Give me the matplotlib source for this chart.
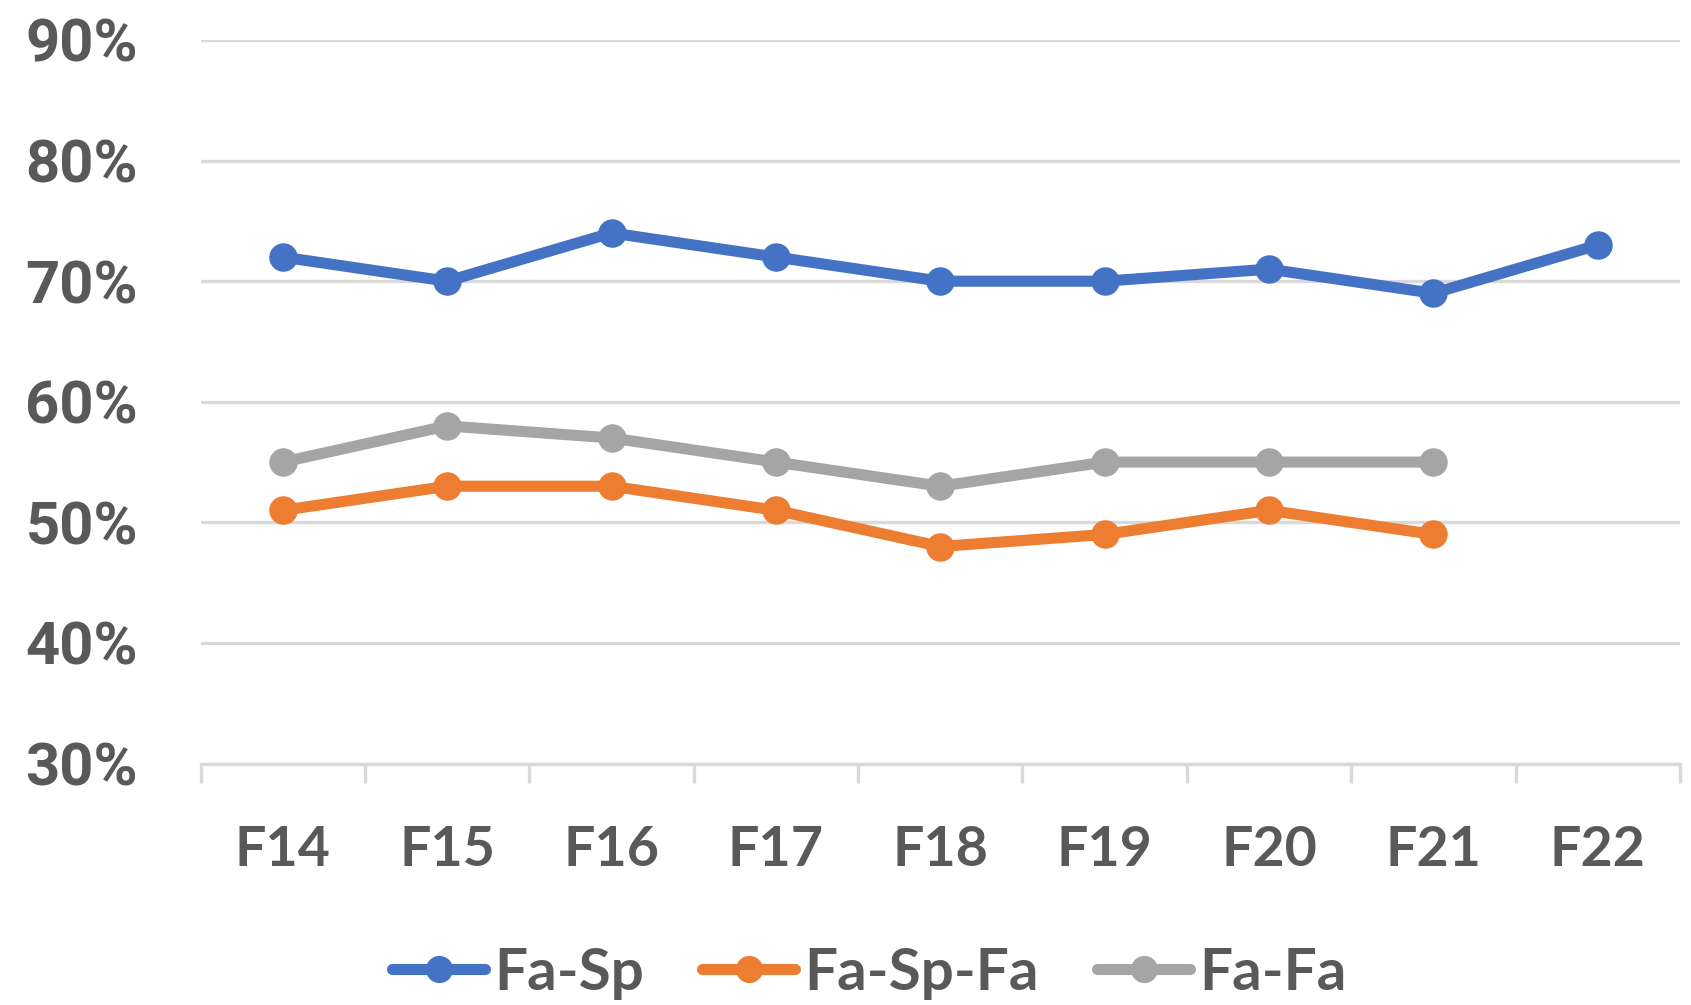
import matplotlib.pyplot as plt
from matplotlib.ticker import FixedLocator, FuncFormatter
import numpy as np

# data
terms = ["F14", "F15", "F16", "F17", "F18", "F19", "F20", "F21", "F22"]
fa_sp = [72, 70, 74, 72, 70, 70, 71, 69, 73]
fa_sp_fa = [51, 53, 53, 51, 48, 49, 51, 49]
fa_fa = [55, 58, 57, 55, 53, 55, 55, 55]

series = [("Fa-Sp", fa_sp, "#4472C4"),
          ("Fa-Sp-Fa", fa_sp_fa, "#ED7D31"),
          ("Fa-Fa", fa_fa, "#A5A5A5")]

text_color = "#595959"
grid_color = "#D9D9D9"

fig = plt.figure(figsize=(16.91, 10.05), dpi=100)
ax = fig.add_axes([0.1186, 0.2402, 0.8749, 0.72])

for name, vals, col in series:
    x = np.arange(len(vals))
    ax.plot(x, np.array(vals) / 100, color=col, lw=8, marker="o",
            markersize=19.5, solid_capstyle="round", label=name, zorder=3)

ax.set_xlim(-0.5, len(terms) - 0.5)
ax.set_ylim(0.30, 0.90)

ax.set_yticks(np.arange(0.30, 0.901, 0.10))
ax.yaxis.set_major_formatter(FuncFormatter(lambda v, p: f"{v:.0%}"))
ax.grid(axis="y", color=grid_color, lw=2.4, zorder=0)
ax.tick_params(axis="y", length=0, pad=45, labelsize=43, labelcolor=text_color)
for lab in ax.get_yticklabels():
    lab.set_fontfamily("Roboto")
    lab.set_fontweight("bold")

ax.set_xticks(np.arange(len(terms)))
ax.set_xticklabels(terms)
ax.xaxis.set_minor_locator(FixedLocator(np.arange(-0.5, len(terms), 1.0)))
ax.tick_params(axis="x", which="major", length=0, pad=44, labelsize=40,
               labelcolor=text_color)
ax.tick_params(axis="x", which="minor", length=14, width=2.4, color=grid_color)
for lab in ax.get_xticklabels():
    lab.set_fontfamily("Lato")
    lab.set_fontweight("bold")

for side in ["top", "right", "left"]:
    ax.spines[side].set_visible(False)
ax.spines["bottom"].set_color(grid_color)
ax.spines["bottom"].set_linewidth(2.4)

leg = fig.legend(loc="center", bbox_to_anchor=(0.514, 1 - 973 / 1005), ncol=3,
                 frameon=False, handlelength=1.6, handletextpad=0.15,
                 columnspacing=1.0, markerscale=0.95,
                 prop={"family": "Lato", "weight": "bold", "size": 42})
for t in leg.get_texts():
    t.set_color(text_color)

fig.savefig("out.png", dpi=100)
